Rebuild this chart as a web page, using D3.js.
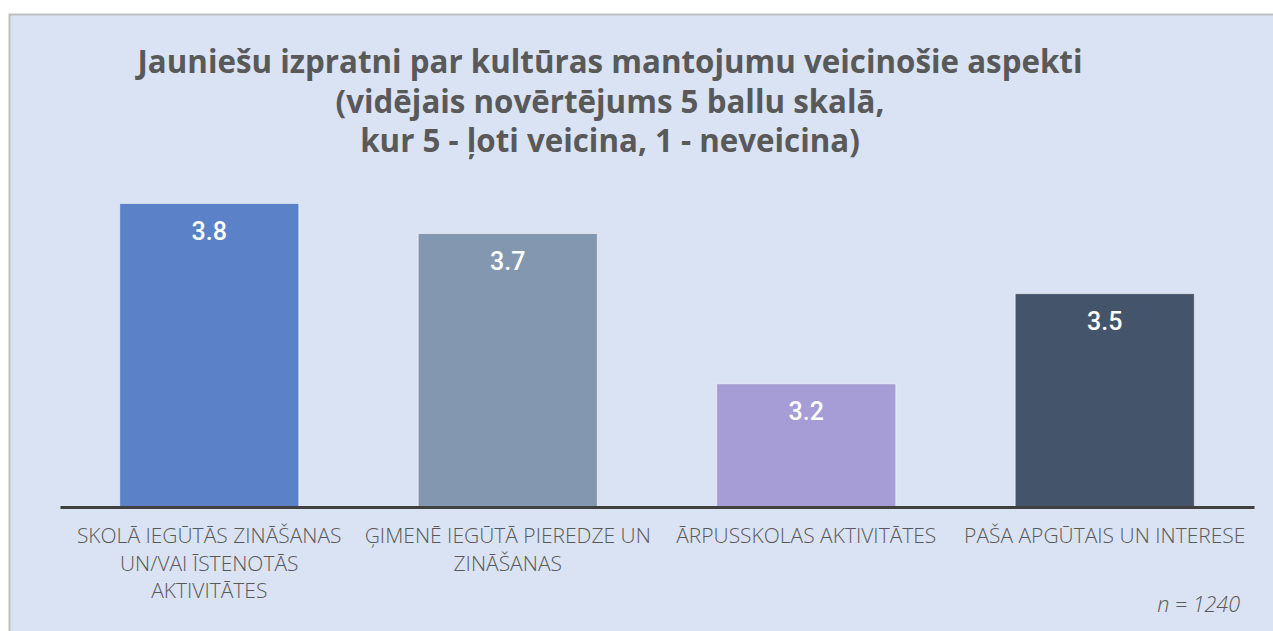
<!DOCTYPE html>
<html lang="lv">
<head>
<meta charset="utf-8">
<script src="https://cdn.jsdelivr.net/npm/d3@7/dist/d3.min.js"></script>
<style>
  html, body { margin: 0; padding: 0; background: #ffffff; }
  svg { display: block; }
  .title { font-family: 'Open Sans', sans-serif; font-weight: 700; }
  .cat { font-family: 'Open Sans', sans-serif; font-weight: 300; }
  .note { font-family: 'Open Sans', sans-serif; font-weight: 300; font-style: italic; }
</style>
</head>
<body>
<svg id="chart" width="1273" height="631"></svg>
<script>
// Aspects and their average ratings on a 5-point scale
const categories = [
  "SKOLĀ IEGŪTĀS ZINĀŠANAS UN/VAI ĪSTENOTĀS AKTIVITĀTES",
  "ĢIMENĒ IEGŪTĀ PIEREDZE UN ZINĀŠANAS",
  "ĀRPUSSKOLAS AKTIVITĀTES",
  "PAŠA APGŪTAIS UN INTERESE"
];
const values = [3.8, 3.7, 3.2, 3.5];
const barColors = ["#5b82c9", "#8497b0", "#a69cd6", "#44546a"];
const titleLines = [
  "Jauniešu izpratni par kultūras mantojumu veicinošie aspekti",
  "(vidējais novērtējums 5 ballu skalā,",
  "kur 5 - ļoti veicina, 1 - neveicina)"
];
const sampleNote = "n = 1240";

const W = 1273, H = 631;
const svg = d3.select("#chart");

// Panel background with a grey frame
svg.append("rect")
  .attr("x", 9.5).attr("y", 14.5)
  .attr("width", W + 20).attr("height", H + 20)
  .attr("fill", "#dae3f3")
  .attr("stroke", "#bfbfbf").attr("stroke-width", 2);

// Title, one text element per line
svg.append("g")
  .attr("class", "title")
  .attr("text-anchor", "middle")
  .attr("font-size", 31.3)
  .attr("fill", "#595959")
  .selectAll("text")
  .data(titleLines)
  .join("text")
  .attr("x", 610)
  .attr("y", (d, i) => 73 + i * 39.5)
  .text(d => d);

// Scales
const x = d3.scaleBand()
  .domain(categories)
  .range([60, 1254])
  .paddingInner(0.4)
  .paddingOuter(0.2);

const baseY = 507;
const y = d3.scaleLinear().domain([2.79, 3.8]).range([baseY, 203.5]);

// Bars
svg.append("g").selectAll("rect")
  .data(categories)
  .join("rect")
  .attr("x", d => x(d))
  .attr("width", x.bandwidth())
  .attr("y", (d, i) => y(values[i]))
  .attr("height", (d, i) => baseY - y(values[i]))
  .attr("fill", (d, i) => barColors[i])
  .attr("stroke", "rgba(255,255,255,0.55)")
  .attr("stroke-width", 1);

// Value labels inside the top of each bar
svg.append("g").selectAll("text")
  .data(categories)
  .join("text")
  .attr("x", d => x(d) + x.bandwidth() / 2)
  .attr("y", (d, i) => y(values[i]) + 36)
  .attr("text-anchor", "middle")
  .attr("font-family", "Roboto, 'Liberation Sans', sans-serif")
  .attr("font-weight", 500)
  .attr("font-size", 25)
  .attr("fill", "#ffffff")
  .text((d, i) => values[i].toFixed(1));

// Category axis
const axis = svg.append("g")
  .attr("transform", `translate(0,${baseY})`)
  .call(d3.axisBottom(x).tickSize(0).tickFormat(""));
axis.select(".domain").attr("stroke", "#404040").attr("stroke-width", 3);

// Wrapped category labels
const labels = svg.append("g")
  .attr("class", "cat")
  .attr("font-size", 21)
  .attr("fill", "#595959")
  .attr("text-anchor", "middle");

categories.forEach(cat => {
  const cx = x(cat) + x.bandwidth() / 2;
  const t = labels.append("text");
  const words = cat.split(" ");
  const maxW = 292;
  let line = [];
  let lineNo = 0;
  let tspan = t.append("tspan").attr("x", cx).attr("y", 543);
  words.forEach(w => {
    line.push(w);
    tspan.text(line.join(" "));
    if (tspan.node().getComputedTextLength() > maxW && line.length > 1) {
      line.pop();
      tspan.text(line.join(" "));
      line = [w];
      lineNo++;
      tspan = t.append("tspan").attr("x", cx).attr("y", 543 + lineNo * 27.5).text(w);
    }
  });
});

// Sample size note
svg.append("text")
  .attr("class", "note")
  .attr("x", 1240).attr("y", 612)
  .attr("text-anchor", "end")
  .attr("font-size", 21.5)
  .attr("fill", "#595959")
  .text(sampleNote);
</script>
</body>
</html>
